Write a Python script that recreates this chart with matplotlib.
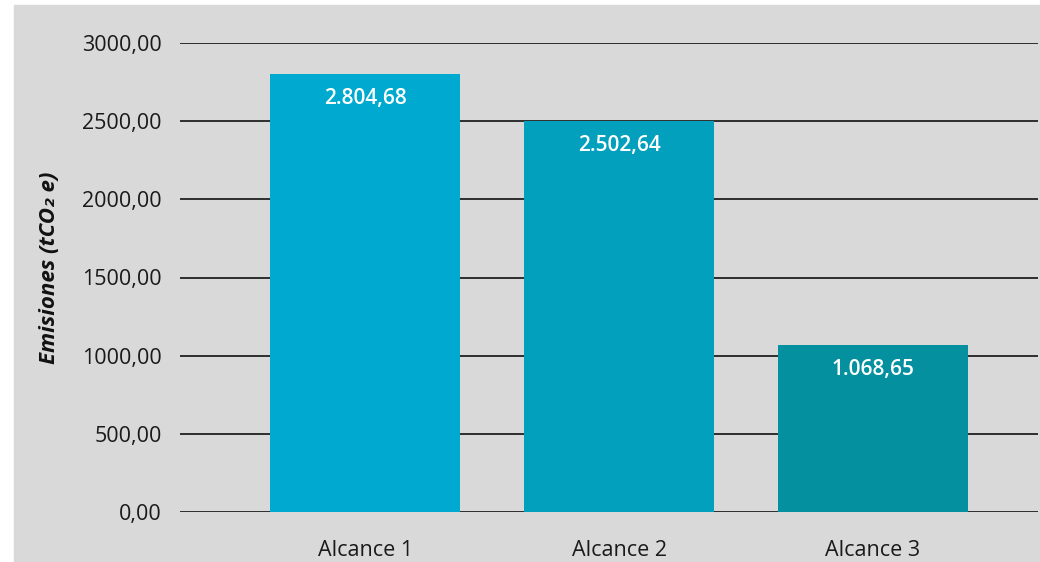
import matplotlib.pyplot as plt
import matplotlib.patches as mpatches
import numpy as np

plt.rcParams['font.family'] = ['Open Sans', 'DejaVu Sans']

categories = ["Alcance 1", "Alcance 2", "Alcance 3"]
emissions = [2804.68, 2502.64, 1068.65]
bar_colors = ["#00a9d0", "#02a0bd", "#05909f"]
y_ticks = [0, 500, 1000, 1500, 2000, 2500, 3000]


def fmt_es(v, thousands=True):
    s = f"{v:,.2f}" if thousands else f"{v:.2f}"
    return s.replace(",", "X").replace(".", ",").replace("X", ".")


fig = plt.figure(figsize=(10.4, 5.62), dpi=100)
fig.patches.append(mpatches.Rectangle((14 / 1040, 0), 1 - 14 / 1040, 557 / 562,
                                      transform=fig.transFigure, color="#d9d9d9", zorder=-5))

ax = fig.add_axes([180 / 1040, 1 - 512 / 562, 858 / 1040, (512 - 43) / 562])
ax.set_facecolor("none")
ax.set_zorder(2)

x = np.arange(len(categories))
bars = ax.bar(x, emissions, width=0.75, color=bar_colors, zorder=2)

for b, v in zip(bars, emissions):
    ax.annotate(fmt_es(v), (b.get_x() + b.get_width() / 2, v), xytext=(0, -18),
                textcoords="offset points", ha="center", va="center",
                color="white", fontsize=15, fontweight="semibold", zorder=3)

ax.set_ylim(0, 3000)
ax.set_xlim(-0.73, 2.65)
ax.set_yticks(y_ticks)
ax.set_yticklabels([fmt_es(t, thousands=False) for t in y_ticks], fontsize=15.5, color="#1a1a1a")
ax.set_xticks(x)
ax.set_xticklabels(categories, fontsize=15.5, color="#1a1a1a")
ax.tick_params(axis="y", length=0, pad=13)
ax.tick_params(axis="x", length=0, pad=20)
ax.grid(axis="y", color="black", linewidth=1.1, zorder=1)
ax.set_axisbelow(True)
for sp in ax.spines.values():
    sp.set_visible(False)

ax.set_ylabel("Emisiones (tCO₂ e)", fontsize=16, fontweight="bold", fontstyle="italic",
              color="#111111")
ax.yaxis.set_label_coords(-0.14, 0.52)

fig.savefig("out.png", dpi=100)
